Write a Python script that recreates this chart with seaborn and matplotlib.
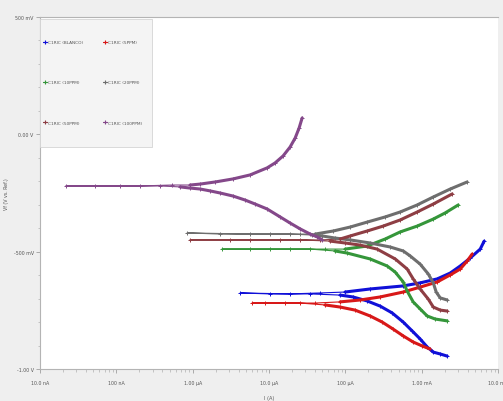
import pandas as pd
import matplotlib
matplotlib.use("Agg")
import matplotlib.pyplot as plt
from matplotlib.lines import Line2D
from matplotlib.patches import Rectangle
from matplotlib.ticker import FixedLocator, MultipleLocator, LogLocator, NullFormatter
import seaborn as sns

# ---- samples -------------------------------------------------------------
samples = ["C1RIC (BLANCO)", "C1RIC (5PPM)", "C1RIC (10PPM)",
           "C1RIC (20PPM)", "C1RIC (50PPM)", "C1RIC (100PPM)"]
colors = ["#1010d8", "#d81818", "#35963a", "#6e6e6e", "#8e3e44", "#84488a"]

# ---- potentiodynamic scans: E (V vs. Ref.), |I| (A) ------------------------
# each scan: cathodic branch -> points around Ecorr -> anodic branch
blanco_cath_E = [-0.945, -0.936, -0.928, -0.906, -0.872, -0.838, -0.800, -0.761, -0.732, -0.710, -0.693, -0.685]
blanco_cath_I = [2.16e-3, 1.75e-3, 1.42e-3, 1.18e-3, 9.55e-4, 7.52e-4, 5.73e-4, 4.10e-4, 2.86e-4, 1.93e-4, 1.26e-4, 8.55e-5]
blanco_tail_E = [-0.680, -0.680, -0.676, -0.680, -0.676]
blanco_tail_I = [3.46e-5, 1.03e-5, 4.18e-6, 1.89e-5, 4.68e-5]
blanco_anod_E = [-0.672, -0.659, -0.646, -0.633, -0.616, -0.591, -0.561, -0.527, -0.489, -0.455]
blanco_anod_I = [9.93e-5, 2.11e-4, 5.73e-4, 9.55e-4, 1.60e-3, 2.37e-3, 3.20e-3, 4.33e-3, 5.85e-3, 6.59e-3]

ppm5_cath_E = [-0.915, -0.902, -0.885, -0.859, -0.830, -0.800, -0.774, -0.749, -0.736, -0.727]
ppm5_cath_I = [1.29e-3, 1.02e-3, 7.74e-4, 5.73e-4, 4.23e-4, 3.04e-4, 2.11e-4, 1.34e-4, 8.55e-5, 5.43e-5]
ppm5_tail_E = [-0.719, -0.719, -0.719, -0.719, -0.719]
ppm5_tail_I = [2.56e-5, 8.89e-6, 6.01e-6, 1.63e-5, 4.02e-5]
ppm5_anod_E = [-0.714, -0.706, -0.693, -0.672, -0.651, -0.629, -0.599, -0.574, -0.540, -0.510]
ppm5_anod_I = [8.55e-5, 1.56e-4, 2.86e-4, 5.73e-4, 9.55e-4, 1.60e-3, 2.37e-3, 3.20e-3, 3.94e-3, 4.59e-3]

ppm10_cath_E = [-0.795, -0.787, -0.774, -0.744, -0.714, -0.668, -0.629, -0.587, -0.561, -0.531, -0.506, -0.497]
ppm10_cath_I = [2.16e-3, 1.50e-3, 1.18e-3, 9.55e-4, 7.74e-4, 6.46e-4, 5.73e-4, 4.50e-4, 3.53e-4, 2.11e-4, 1.06e-4, 7.34e-5]
ppm10_tail_E = [-0.489, -0.489, -0.489, -0.489, -0.489, -0.489]
ppm10_tail_I = [3.46e-5, 1.03e-5, 2.43e-6, 5.65e-6, 1.89e-5, 5.43e-5]
ppm10_anod_E = [-0.489, -0.476, -0.446, -0.416, -0.391, -0.361, -0.335, -0.301]
ppm10_anod_I = [9.93e-5, 1.93e-4, 3.33e-4, 5.22e-4, 8.73e-4, 1.42e-3, 2.03e-3, 3.01e-3]

ppm20_cath_E = [-0.706, -0.697, -0.672, -0.633, -0.595, -0.553, -0.518, -0.497, -0.480, -0.463, -0.450, -0.442, -0.433, -0.429]
ppm20_cath_I = [2.16e-3, 1.75e-3, 1.55e-3, 1.42e-3, 1.22e-3, 9.55e-4, 7.06e-4, 5.73e-4, 3.86e-4, 2.11e-4, 1.16e-4, 7.34e-5, 4.97e-5, 3.67e-5]
ppm20_tail_E = [-0.425, -0.425, -0.420, -0.425, -0.425, -0.425]
ppm20_tail_I = [1.89e-5, 5.65e-6, 8.45e-7, 2.29e-6, 1.03e-5, 2.56e-5]
ppm20_anod_E = [-0.425, -0.412, -0.395, -0.374, -0.352, -0.331, -0.301, -0.267, -0.233, -0.203]
ppm20_anod_I = [4.02e-5, 6.92e-5, 1.16e-4, 1.93e-4, 3.33e-4, 5.22e-4, 8.73e-4, 1.42e-3, 2.37e-3, 3.94e-3]

ppm50_cath_E = [-0.753, -0.749, -0.736, -0.702, -0.659, -0.616, -0.574, -0.531, -0.489, -0.472, -0.463, -0.455]
ppm50_cath_I = [2.16e-3, 1.75e-3, 1.42e-3, 1.22e-3, 9.55e-4, 7.74e-4, 6.46e-4, 4.50e-4, 2.61e-4, 1.56e-4, 9.93e-5, 6.32e-5]
ppm50_tail_E = [-0.450, -0.450, -0.450, -0.450, -0.450, -0.450]
ppm50_tail_I = [2.56e-5, 5.65e-6, 9.25e-7, 3.09e-6, 1.40e-5, 4.68e-5]
ppm50_anod_E = [-0.446, -0.433, -0.412, -0.391, -0.365, -0.331, -0.297, -0.254]
ppm50_anod_I = [8.55e-5, 1.16e-4, 1.93e-4, 3.13e-4, 5.22e-4, 8.73e-4, 1.42e-3, 2.51e-3]

ppm100_cath_E = [-0.450, -0.437, -0.425, -0.403, -0.378, -0.352, -0.318, -0.297, -0.280, -0.263, -0.250, -0.241, -0.233, -0.229, -0.224]
ppm100_cath_I = [4.97e-5, 4.27e-5, 3.46e-5, 2.56e-5, 1.89e-5, 1.40e-5, 9.44e-6, 6.58e-6, 4.86e-6, 3.38e-6, 2.29e-6, 1.69e-6, 1.25e-6, 9.25e-7, 6.84e-7]
ppm100_tail_E = [-0.220, -0.220, -0.220, -0.220, -0.220, -0.216]
ppm100_tail_I = [3.74e-7, 1.12e-7, 2.19e-8, 5.26e-8, 2.05e-7, 5.37e-7]
ppm100_anod_E = [-0.216, -0.212, -0.203, -0.190, -0.173, -0.143, -0.122, -0.092, -0.054, -0.016, 0.027, 0.070]
ppm100_anod_I = [9.25e-7, 1.25e-6, 1.97e-6, 3.38e-6, 5.65e-6, 9.44e-6, 1.20e-5, 1.53e-5, 1.89e-5, 2.20e-5, 2.48e-5, 2.72e-5]

# ---- axis labels -----------------------------------------------------------
x_ticks = [1e-8, 1e-7, 1e-6, 1e-5, 1e-4, 1e-3, 1e-2]
x_ticklabels = ["10.0 nA", "100 nA", "1.00 µA", "10.0 µA", "100 µA", "1.00 mA", "10.0 mA"]
y_ticks = [0.5, 0.0, -0.5, -1.0]
y_ticklabels = ["500 mV", "0.00 V", "-500 mV", "-1.00 V"]

scans = [
    (blanco_cath_E, blanco_cath_I, blanco_tail_E, blanco_tail_I, blanco_anod_E, blanco_anod_I),
    (ppm5_cath_E, ppm5_cath_I, ppm5_tail_E, ppm5_tail_I, ppm5_anod_E, ppm5_anod_I),
    (ppm10_cath_E, ppm10_cath_I, ppm10_tail_E, ppm10_tail_I, ppm10_anod_E, ppm10_anod_I),
    (ppm20_cath_E, ppm20_cath_I, ppm20_tail_E, ppm20_tail_I, ppm20_anod_E, ppm20_anod_I),
    (ppm50_cath_E, ppm50_cath_I, ppm50_tail_E, ppm50_tail_I, ppm50_anod_E, ppm50_anod_I),
    (ppm100_cath_E, ppm100_cath_I, ppm100_tail_E, ppm100_tail_I, ppm100_anod_E, ppm100_anod_I),
]

rows = []
for name, (cE, cI, tE, tI, aE, aI) in zip(samples, scans):
    for seg, Es, Is in (("cathodic", cE, cI), ("tail", tE, tI), ("anodic", aE, aI)):
        for e, i in zip(Es, Is):
            rows.append({"sample": name, "segment": seg, "E": e, "I": i})
df = pd.DataFrame(rows)

# ---- figure ----------------------------------------------------------------
sns.set_theme(style="white")
plt.rcParams["font.family"] = ["DejaVu Sans"]

W, H = 503, 402
fig = plt.figure(figsize=(W / 100, H / 100), dpi=100, facecolor="#efefef")
ax = fig.add_axes([40 / W, 1 - 370 / H, 458 / W, 352 / H])
ax.set_facecolor("white")

pal = dict(zip(samples, colors))
# full scan, thin line with point markers
sns.lineplot(data=df, x="I", y="E", hue="sample", hue_order=samples, palette=pal,
             estimator=None, sort=False, lw=0.8, marker="+", markersize=3.5,
             markeredgewidth=0.7, legend=False, ax=ax)
# '+' markers take the colour of their own scan
for ln in ax.get_lines():
    ln.set_markeredgecolor(ln.get_color())
# Tafel branches drawn heavier
branches = df[df["segment"] != "tail"]
sns.lineplot(data=branches, x="I", y="E", hue="sample", hue_order=samples, palette=pal,
             units="segment", estimator=None, sort=False, lw=2.2,
             legend=False, ax=ax)

ax.set_xscale("log")
ax.set_xlim(1e-8, 1e-2)
ax.set_ylim(-1.0, 0.5)

ax.xaxis.set_major_locator(FixedLocator(x_ticks))
ax.set_xticklabels(x_ticklabels)
ax.xaxis.set_minor_locator(LogLocator(base=10, subs=range(2, 10)))
ax.xaxis.set_minor_formatter(NullFormatter())
ax.yaxis.set_major_locator(FixedLocator(y_ticks))
ax.set_yticklabels(y_ticklabels)
ax.yaxis.set_minor_locator(MultipleLocator(0.1))

ax.tick_params(which="major", direction="out", length=3, width=0.6, color="#a0a0a0",
               labelsize=3.4, labelcolor="#555555")
ax.tick_params(which="minor", direction="out", length=1.8, width=0.5, color="#b0b0b0")
ax.tick_params(axis="y", which="both", left=True, pad=1.5)
ax.tick_params(axis="x", which="both", bottom=True, pad=5)

for side in ("left", "bottom", "top"):
    ax.spines[side].set_color("#b4b4b4")
    ax.spines[side].set_linewidth(0.8)
ax.spines["right"].set_visible(False)

ax.set_xlabel("I (A)", fontsize=3.6, color="#555555", labelpad=7)
ax.set_ylabel("Vf (V vs. Ref.)", fontsize=3.4, color="#555555", labelpad=3)

# legend panel in the upper-left corner
ax.add_patch(Rectangle((0.0, 1 - 130 / 352), 112 / 458, 128 / 352,
                       transform=ax.transAxes, facecolor="#f4f4f4",
                       edgecolor="#d4d4d4", lw=0.6, zorder=3))
handles = [Line2D([0], [0], color=c, lw=0.8, marker="+", markersize=3.5,
                  markeredgewidth=0.8) for c in colors]
order = [0, 2, 4, 1, 3, 5]
leg = ax.legend([handles[k] for k in order], [samples[k] for k in order],
                ncol=2, loc="upper left",
                bbox_to_anchor=(1.5 / 458, 1 - 22 / 352),
                fontsize=3.1, frameon=False,
                labelspacing=8.4, borderpad=0.3, handlelength=0.9,
                handletextpad=0.3, columnspacing=4.6, borderaxespad=0.0)
leg.set_zorder(4)
for t in leg.get_texts():
    t.set_color("#555555")

fig.savefig("out.png", dpi=100, facecolor=fig.get_facecolor())
